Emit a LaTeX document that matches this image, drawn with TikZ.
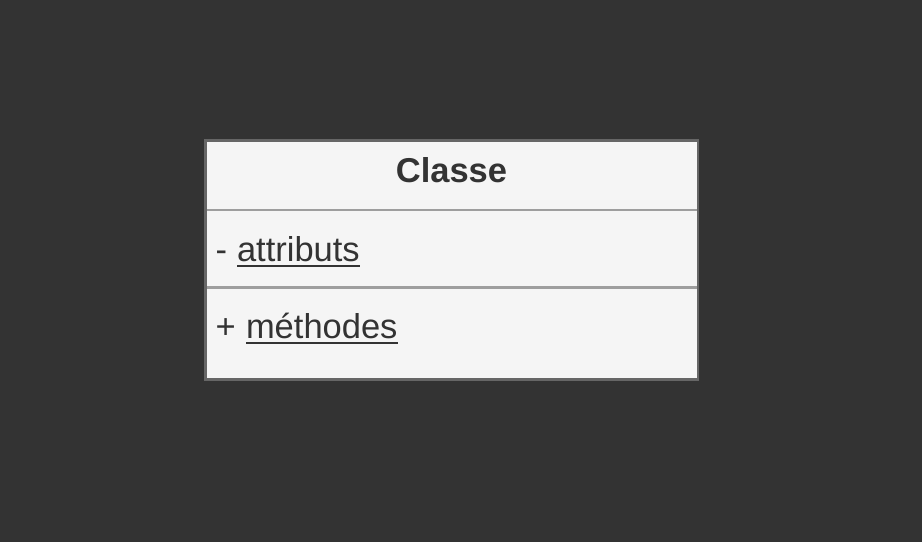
\documentclass[tikz,border=0pt]{standalone}
\usepackage{fontspec}
\setmainfont{Liberation Sans}
\definecolor{bgdark}{HTML}{333333}
\definecolor{boxfill}{HTML}{F5F5F5}
\definecolor{boxborder}{HTML}{666666}
\definecolor{divider}{HTML}{9E9E9E}
\definecolor{txtcol}{HTML}{333333}
\tikzset{
  txt/.style={inner sep=0pt, outer sep=0pt, anchor=base west, text=txtcol, font=\fontsize{34.5}{40}\selectfont},
  ttl/.style={txt, anchor=base, font=\fontsize{34.5}{40}\selectfont\bfseries},
  uline/.style={draw=txtcol, line width=2pt},
  divline/.style={draw=divider, line width=2.5pt},
  classbox/.style={draw=boxborder, fill=boxfill, line width=2.5pt, inner sep=0pt, outer sep=0pt}
}
\begin{document}
\begin{tikzpicture}[x=1pt,y=-1pt]
\fill[bgdark] (0,0) rectangle (922,542);
\useasboundingbox (0,0) rectangle (922,542);
\fill[boxfill] (205.5,140.5) rectangle (698,379.5);
\coordinate (d1l) at (205.5,209.8);
\coordinate (d1r) at (698,209.8);
\coordinate (d2l) at (205.5,287.5);
\coordinate (d2r) at (698,287.5);
\draw[divline] (d1l) -- (d1r);
\draw[divline] (d2l) -- (d2r);
\node[classbox, fill=none, minimum width=492.5pt, minimum height=239pt, anchor=north west] (box) at (205.5,140.5) {};
\node[ttl] (title) at (451.5,182.5) {Classe};
\node[txt] (minus) at (215.5,261) {-};
\node[txt] (att) at (237,261) {attributs};
\draw[uline] ([yshift=-4.5pt]att.base west) -- ([yshift=-4.5pt]att.base east);
\node[txt] (plus) at (215.5,338.5) {+};
\node[txt] (meth) at (246,338.5) {méthodes};
\draw[uline] ([yshift=-4.5pt]meth.base west) -- ([yshift=-4.5pt]meth.base east);
\end{tikzpicture}
\end{document}
